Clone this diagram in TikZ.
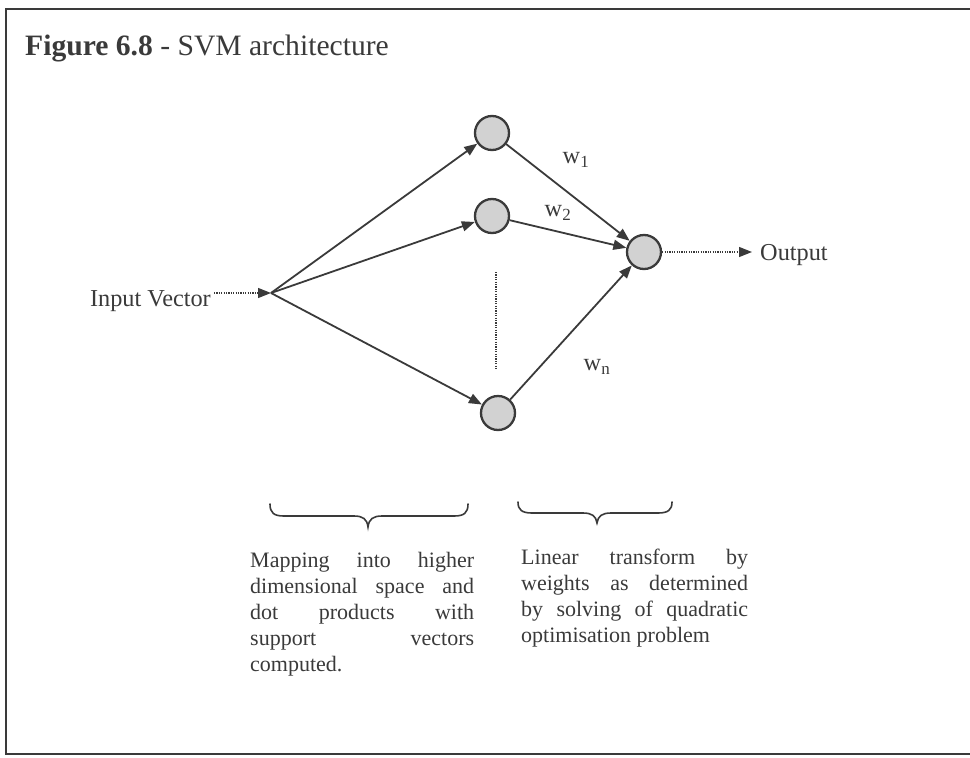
\documentclass[tikz,border=0pt]{standalone}
\usepackage{fontspec}
\setmainfont{Liberation Serif}
\usetikzlibrary{arrows.meta}
\definecolor{ink}{HTML}{3A3A3A}
\definecolor{unitfill}{HTML}{D2D2D2}

\begin{document}
\begin{tikzpicture}[x=1pt,y=-1pt,
  unit/.style={circle, draw=ink, line width=2.3pt, fill=unitfill, minimum size=34pt, inner sep=0pt},
  tip/.style={-{Triangle[length=13pt,width=10pt]}},
  link/.style={draw=ink, line width=1.8pt, tip},
  dotline/.style={draw=ink, line width=1.3pt, dash pattern=on 1.2pt off 1.2pt},
  lbl/.style={font=\fontsize{24.3}{26}\selectfont, text=ink, inner sep=0pt},
  brace/.style={draw=ink, line width=1.6pt, line cap=round},
  frame/.style={draw=ink, line width=1.8pt}]

\useasboundingbox (0,0) rectangle (970,758);

% page frame (open on the right)
\draw[frame] (970,9) -- (6,9) -- (6,754) -- (970,754);

% title
\node[anchor=base west, inner sep=0pt, text=ink, font=\fontsize{29.6}{32}\selectfont] (title) at (25,55)
  {\textbf{Figure 6.8} - SVM architecture};

% input
\coordinate (in) at (271,293);
\node[lbl, anchor=base east] (inlbl) at (211,306) {Input Vector};
\draw[dotline, tip] ([xshift=3pt]inlbl.east |- in) -- (in);

% kernel units
\node[unit] (h1) at (492,133) {};
\node[unit] (h2) at (492,216) {};
\node[unit] (hn) at (498,413) {};
\coordinate (vtop) at (496,272);
\coordinate (vbot) at (496,370);
\draw[dotline] (vtop) -- (vbot);

% output unit
\node[unit] (out) at (644,252) {};
\node[lbl, anchor=base west] (outlbl) at (760,260) {Output};
\draw[dotline, tip] (out) -- ([xshift=-8pt]outlbl.west |- out);

% connections
\draw[link] (in) -- (h1);
\draw[link] (in) -- (h2);
\draw[link] (in) -- (hn);
\draw[link] (h1) -- (out);
\draw[link] (h2) -- (out);
\draw[link] (hn) -- (out);

% weights
\node[lbl] (w1) at (576,160) {w\textsubscript{1}};
\node[lbl] (w2) at (558,213) {w\textsubscript{2}};
\node[lbl] (wn) at (597,367) {w\textsubscript{n}};

% braces
\draw[brace] (270,504) .. controls (270,513) and (274,516) .. (284,516) -- (354,516)
  .. controls (363,516) and (367,519) .. (368,527)
  .. controls (369,519) and (373,516) .. (382,516) -- (454,516)
  .. controls (464,516) and (468,513) .. (468,504);
\draw[brace] (518,502) .. controls (518,510) and (522,513) .. (532,513) -- (583,513)
  .. controls (592,513) and (596,516) .. (597,523)
  .. controls (598,516) and (602,513) .. (611,513) -- (658,513)
  .. controls (668,513) and (672,510) .. (672,502);

% descriptions
\node[anchor=base west, inner sep=0pt, text=ink] (mapdesc) at (250,567) {\parbox[t]{224pt}{%
  \fontsize{22}{26}\selectfont
  \hbox to\hsize{Mapping\hfill into\hfill higher}%
  \hbox to\hsize{dimensional\hfill space\hfill and}%
  \hbox to\hsize{dot\hfill products\hfill with}%
  \hbox to\hsize{support\hfill vectors}%
  \hbox to\hsize{computed.\hfil}}};
\node[anchor=base west, inner sep=0pt, text=ink] (lindesc) at (521,564) {\parbox[t]{227pt}{%
  \fontsize{22}{26}\selectfont
  \hbox to\hsize{Linear\hfill transform\hfill by}%
  \hbox to\hsize{weights\hfill as\hfill determined}%
  \hbox to\hsize{by\hfill solving\hfill of\hfill quadratic}%
  \hbox to\hsize{optimisation problem\hfil}}};

\end{tikzpicture}
\end{document}
